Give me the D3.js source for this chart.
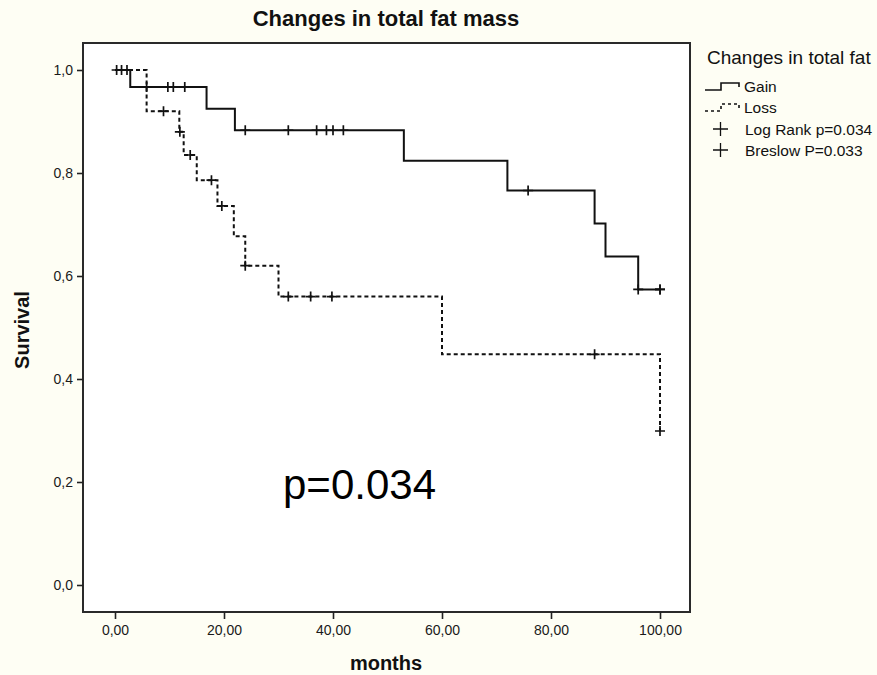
<!DOCTYPE html>
<html>
<head>
<meta charset="utf-8">
<script src="https://cdn.jsdelivr.net/npm/d3@7"></script>
<style>
  html, body { margin: 0; padding: 0; background: #fefef4; }
  svg { display: block; font-family: 'Liberation Sans', Arial, sans-serif; }
</style>
</head>
<body>
<svg id="chart" width="877" height="675"></svg>
<script>
// Kaplan-Meier step data (months, survival)
const gainTimes = [0, 2.8, 16.8, 22, 53, 72, 88, 90, 96, 100];
const gainSurv = [1, 0.967, 0.925, 0.883, 0.824, 0.766, 0.702, 0.638, 0.574, 0.574];
const lossTimes = [0, 5.8, 11.8, 12.6, 15, 18.8, 21.8, 23.9, 30, 60, 100];
const lossSurv = [1, 0.920, 0.880, 0.835, 0.786, 0.736, 0.677, 0.620, 0.560, 0.448, 0.299];

// censored observations (months)
const gainCensored = [0.3, 1.2, 2.2, 5.8, 9.7, 10.7, 12.8, 23.9, 31.8, 37, 38.8, 40, 41.9, 75.8, 96, 100, 100];
const lossCensored = [8.9, 11.9, 13.8, 17.7, 19.6, 23.9, 31.8, 35.9, 39.8, 88, 100];

const xTicks = [0, 20, 40, 60, 80, 100];
const yTicks = [0, 0.2, 0.4, 0.6, 0.8, 1.0];

const legendItems = ['Gain', 'Loss'];
const testLabels = ['Log Rank p=0.034', 'Breslow P=0.033'];

const svg = d3.select('#chart');
const font = "'Liberation Sans', Arial, sans-serif";

// Plot frame
const frame = { left: 83, right: 690, top: 43, bottom: 612 };

const x = d3.scaleLinear().domain([0, 100]).range([115, 660]);
const y = d3.scaleLinear().domain([0, 1]).range([585, 70]);

svg.append('rect')
  .attr('x', frame.left).attr('y', frame.top)
  .attr('width', frame.right - frame.left)
  .attr('height', frame.bottom - frame.top)
  .attr('fill', '#fff')
  .attr('stroke', '#2a2a2a')
  .attr('stroke-width', 2);

// Axes
const yAxis = d3.axisLeft(y)
  .tickValues(yTicks)
  .tickSize(6)
  .tickPadding(4)
  .tickFormat(d => d3.format('.1f')(d).replace('.', ','));

svg.append('g')
  .attr('transform', `translate(${frame.left},0)`)
  .call(yAxis)
  .call(g => g.select('.domain').remove())
  .call(g => g.selectAll('line').attr('stroke', '#222').attr('stroke-width', 1.6))
  .call(g => g.selectAll('text').attr('font-size', 14).attr('fill', '#1a1a1a')
    .attr('font-family', font));

const xAxis = d3.axisBottom(x)
  .tickValues(xTicks)
  .tickSize(7)
  .tickPadding(6)
  .tickFormat(d => d3.format('.2f')(d).replace('.', ','));

svg.append('g')
  .attr('transform', `translate(0,${frame.bottom})`)
  .call(xAxis)
  .call(g => g.select('.domain').remove())
  .call(g => g.selectAll('line').attr('stroke', '#222').attr('stroke-width', 1.6))
  .call(g => g.selectAll('text').attr('font-size', 14).attr('fill', '#1a1a1a')
    .attr('font-family', font));

// Step curves
const line = d3.line()
  .x(d => x(d[0]))
  .y(d => y(d[1]))
  .curve(d3.curveStepAfter);

const gainPts = gainTimes.map((t, i) => [t, gainSurv[i]]);
const lossPts = lossTimes.map((t, i) => [t, lossSurv[i]]);

svg.append('path')
  .datum(lossPts)
  .attr('fill', 'none')
  .attr('stroke', '#111')
  .attr('stroke-width', 2)
  .attr('stroke-dasharray', '4,3')
  .attr('d', line);

svg.append('path')
  .datum(gainPts)
  .attr('fill', 'none')
  .attr('stroke', '#111')
  .attr('stroke-width', 2)
  .attr('d', line);

// value of a step curve at time t
function stepAt(times, surv, t) {
  const i = d3.bisectRight(times, t) - 1;
  return surv[Math.max(0, i)];
}

function drawCensors(times, surv, cens) {
  cens.forEach(t => {
    const cx = x(t), cy = y(stepAt(times, surv, t));
    svg.append('path')
      .attr('d', `M${cx - 5},${cy}H${cx + 5}M${cx},${cy - 5}V${cy + 5}`)
      .attr('stroke', '#111')
      .attr('stroke-width', 1.7)
      .attr('fill', 'none');
  });
}
drawCensors(gainTimes, gainSurv, gainCensored);
drawCensors(lossTimes, lossSurv, lossCensored);

// Titles
svg.append('text')
  .attr('x', 386).attr('y', 26)
  .attr('text-anchor', 'middle')
  .attr('font-size', 22).attr('font-weight', 'bold').attr('fill', '#111')
  .text('Changes in total fat mass');

svg.append('text')
  .attr('x', 386).attr('y', 670)
  .attr('text-anchor', 'middle')
  .attr('font-size', 20).attr('font-weight', 'bold').attr('fill', '#111')
  .text('months');

svg.append('text')
  .attr('transform', 'translate(29,330) rotate(-90)')
  .attr('text-anchor', 'middle')
  .attr('font-size', 20).attr('font-weight', 'bold').attr('fill', '#111')
  .text('Survival');

svg.append('text')
  .attr('x', 283).attr('y', 499)
  .attr('font-size', 42).attr('fill', '#000')
  .text('p=0.034');

// Legend
const lg = svg.append('g');
lg.append('text')
  .attr('x', 707).attr('y', 64)
  .attr('font-size', 19).attr('fill', '#111')
  .text('Changes in total fat');

const iconPath = (yy) => `M705,${yy + 3}H721V${yy - 4}H739V${yy}`;
lg.append('path').attr('d', iconPath(87))
  .attr('fill', 'none').attr('stroke', '#111').attr('stroke-width', 1.6);
lg.append('path').attr('d', iconPath(108))
  .attr('fill', 'none').attr('stroke', '#111').attr('stroke-width', 1.6)
  .attr('stroke-dasharray', '3,3');

legendItems.forEach((d, i) => {
  lg.append('text')
    .attr('x', 744).attr('y', 87 + i * 21 + 5)
    .attr('font-size', 15.5).attr('fill', '#111')
    .text(d);
});

testLabels.forEach((d, i) => {
  const cy = 129 + i * 21;
  lg.append('path')
    .attr('d', `M713,${cy}H728M720.5,${cy - 7}V${cy + 7}`)
    .attr('stroke', '#111').attr('stroke-width', 1.3).attr('fill', 'none');
  lg.append('text')
    .attr('x', 745).attr('y', cy + 5.5)
    .attr('font-size', 15.5).attr('fill', '#111')
    .text(d);
});
</script>
</body>
</html>
